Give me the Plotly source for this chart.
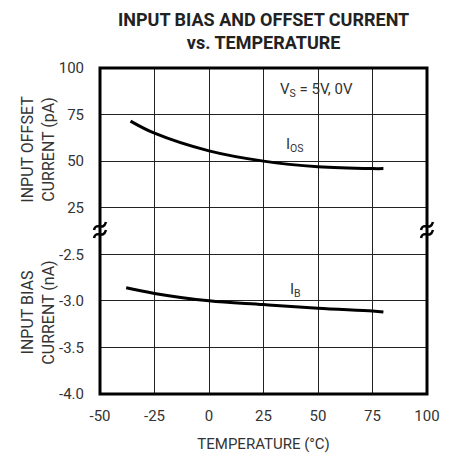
import plotly.graph_objects as go

# ---- data ----
temp_ios = [-36, -25, 0, 25, 50, 75, 80]
ios_pa = [71.5, 65.0, 55.5, 50.0, 47.0, 46.0, 46.0]
temp_ib = [-38, -25, 0, 25, 50, 75, 80]
ib_na = [-2.86, -2.92, -3.0, -3.04, -3.08, -3.11, -3.12]

x_ticks = [-50, -25, 0, 25, 50, 75, 100]
x_ticktext = ["-50", "-25", "0", "25", "50", "75", "100"]
top_ticks = [25, 50, 75, 100]
top_ticktext = ["25", "50", "75", "100"]
bot_ticks = [-4.0, -3.5, -3.0, -2.5]
bot_ticktext = ["-4.0", "-3.5", "-3.0", "-2.5"]

FONT = "Roboto, Liberation Sans, sans-serif"
TXT = "#333333"
GRID = "#222222"

fig = go.Figure()
fig.add_trace(go.Scatter(x=temp_ib, y=ib_na, mode="lines", line=dict(color="black", width=3, shape="spline"),
                         xaxis="x", yaxis="y", showlegend=False, hoverinfo="skip"))
fig.add_trace(go.Scatter(x=temp_ios, y=ios_pa, mode="lines", line=dict(color="black", width=3, shape="spline"),
                         xaxis="x2", yaxis="y2", showlegend=False, hoverinfo="skip"))

common_x = dict(range=[-50, 100], tickmode="array", tickvals=x_ticks, showgrid=True, gridcolor=GRID,
                gridwidth=1, zeroline=False, showline=False, automargin=False)
common_y = dict(tickmode="array", showgrid=True, gridcolor=GRID, gridwidth=1, zeroline=False,
                showline=False, ticks="outside", ticklen=12, tickcolor="white", automargin=False,
                tickfont=dict(size=15, color=TXT))
fig.update_layout(
    width=451, height=458,
    margin=dict(l=100, r=24, t=68, b=64),
    paper_bgcolor="white", plot_bgcolor="white",
    font=dict(family=FONT, color=TXT, size=15),
    xaxis=dict(**common_x, anchor="y", ticktext=x_ticktext, tickfont=dict(size=15, color=TXT),
               ticks="outside", ticklen=8, tickcolor="white",
               title=dict(text="TEMPERATURE (°C)", font=dict(size=15, color=TXT), standoff=14)),
    xaxis2=dict(**common_x, anchor="y2", matches="x", showticklabels=False, ticks=""),
    yaxis=dict(**common_y, domain=[0, 0.5], range=[-4.0, -2.25], tickvals=bot_ticks, ticktext=bot_ticktext,
               title=dict(text="INPUT BIAS<br>CURRENT (nA)", font=dict(size=16, color=TXT), standoff=0)),
    yaxis2=dict(**common_y, domain=[0.5, 1], range=[12.5, 100], tickvals=top_ticks, ticktext=top_ticktext,
                title=dict(text="INPUT OFFSET<br>CURRENT (pA)", font=dict(size=16, color=TXT), standoff=0)),
)

shapes = [dict(type="rect", xref="paper", yref="paper", x0=0, x1=1, y0=0, y1=1,
               line=dict(color="black", width=3), fillcolor="rgba(0,0,0,0)", layer="above")]
for xa in (0, 1):
    for dy in (5, -3):
        shapes.append(dict(type="path", xref="paper", yref="paper", xsizemode="pixel", ysizemode="pixel",
                           xanchor=xa, yanchor=0.5,
                           path=f"M -6,{dy-4} C -4,{dy+5} 3,{dy-6} 6,{dy+4}",
                           line=dict(color="black", width=2.5), layer="above"))
fig.update_layout(shapes=shapes)

fig.add_annotation(x=0.5, y=1.113, xref="paper", yref="paper", yanchor="middle",
                   text="<b>INPUT BIAS AND OFFSET CURRENT<br>vs. TEMPERATURE</b>", showarrow=False,
                   font=dict(size=18, color="#222222"))
fig.add_annotation(x=49.5, y=88, xref="x2", yref="y2", text="V<sub>S</sub> = 5V, 0V", showarrow=False,
                   font=dict(size=15, color=TXT))
fig.add_annotation(x=39.5, y=58.5, xref="x2", yref="y2", text="I<sub>OS</sub>", showarrow=False,
                   font=dict(size=15, color=TXT))
fig.add_annotation(x=39.5, y=-2.88, xref="x", yref="y", text="I<sub>B</sub>", showarrow=False,
                   font=dict(size=15, color=TXT))

fig.write_html("out.html", post_script="document.body.style.margin='0';",
               config={"displayModeBar": False})
